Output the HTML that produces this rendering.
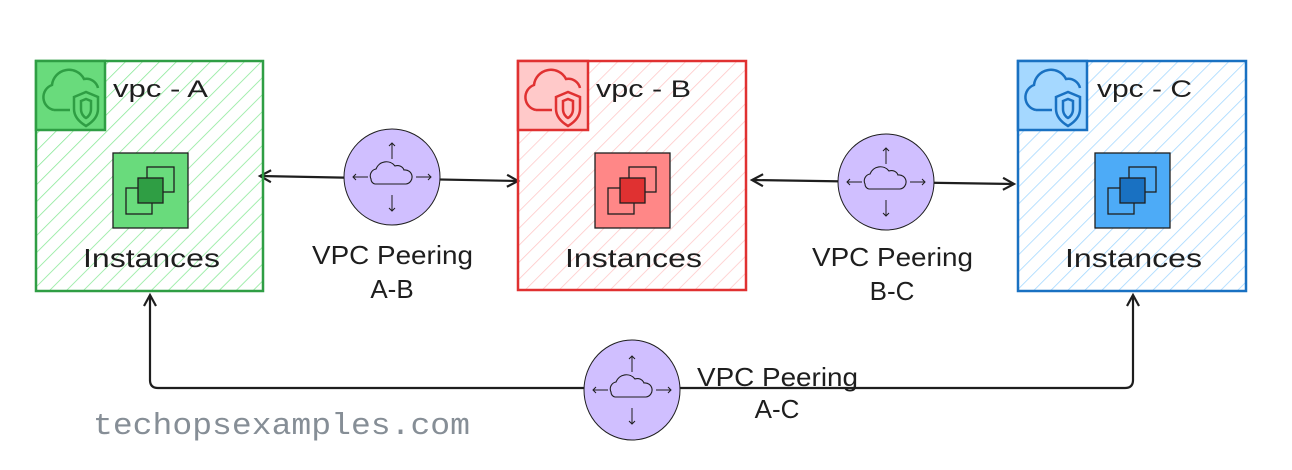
<!DOCTYPE html>
<html><head><meta charset="utf-8"><style>
html,body{margin:0;padding:0;background:#fff;}
svg{display:block}
.h{font-family:"Comic Sans MS","Liberation Sans",sans-serif;fill:#1e1e1e;}
</style></head><body>
<svg width="1292" height="470" viewBox="0 0 1292 470" xmlns="http://www.w3.org/2000/svg">
<defs>
<pattern id="hg" width="12" height="12" patternUnits="userSpaceOnUse" patternTransform="rotate(45)"><line x1="0" y1="0" x2="0" y2="12" stroke="#8ce99a" stroke-width="1.6"/></pattern>
<pattern id="hr" width="12" height="12" patternUnits="userSpaceOnUse" patternTransform="rotate(45)"><line x1="0" y1="0" x2="0" y2="12" stroke="#ffc9c9" stroke-width="1.6"/></pattern>
<pattern id="hb" width="12" height="12" patternUnits="userSpaceOnUse" patternTransform="rotate(45)"><line x1="0" y1="0" x2="0" y2="12" stroke="#a5d8ff" stroke-width="1.6"/></pattern>
<marker id="ar" markerWidth="16" markerHeight="16" refX="13" refY="8" orient="auto-start-reverse" markerUnits="userSpaceOnUse"><path d="M2,2 L13,8 L2,14" fill="none" stroke="#1e1e1e" stroke-width="2.2"/></marker>
<g id="cloudicon" fill="none" stroke-width="2.5">
<path d="M16,46 a13,13 0 0 1 -2,-25 a17,17 0 0 1 32,-6 a12,12 0 0 1 14,9"/>
<path d="M16,46 h16"/>
<path d="M36,33 l12,-5 l12,5 v12 c0,9 -7,14 -12,17 c-5,-3 -12,-8 -12,-17 z"/>
<path d="M43,37 l5,-2 l5,2 v8 c0,5 -3,8 -5,9 c-2,-1 -5,-4 -5,-9 z"/>
</g>
<g id="peer">
<path d="M-21,2 a7,7 0 0 1 5,-10 a11,11 0 0 1 19,-3 a7,7 0 0 1 9,4 a7,7 0 0 1 2,14 h-31 a5,5 0 0 1 -4,-5z" fill="none" stroke="#1e1e1e" stroke-width="1.1"/>
<g stroke="#1e1e1e" stroke-width="1" fill="none">
<path d="M0,-18 v-16 M-3,-31 l3,-3 l3,3"/>
<path d="M0,18 v16 M-3,31 l3,3 l3,-3"/>
<path d="M-24,0 h-15 M-36,-3 l-3,3 l3,3"/>
<path d="M24,0 h15 M36,-3 l3,3 l-3,3"/>
</g>
</g>
</defs>

<!-- connectors -->
<line x1="260" y1="176" x2="518" y2="181" stroke="#1e1e1e" stroke-width="2.2" marker-start="url(#ar)" marker-end="url(#ar)"/>
<line x1="752" y1="180" x2="1014" y2="184" stroke="#1e1e1e" stroke-width="2.2" marker-start="url(#ar)" marker-end="url(#ar)"/>
<path d="M150,295 V380 q0,8 8,8 H1125 q8,0 8,-8 V295" fill="none" stroke="#1e1e1e" stroke-width="2.2" marker-start="url(#ar)" marker-end="url(#ar)"/>

<!-- VPC A -->
<rect x="36" y="61" width="227" height="230" fill="url(#hg)" stroke="#2f9e44" stroke-width="2.5"/>
<rect x="36" y="61" width="69" height="69" fill="#69db7c" stroke="#2f9e44" stroke-width="2.5"/>
<use href="#cloudicon" x="38" y="64" stroke="#2f9e44"/>
<text class="h" x="113" y="97" font-size="24" textLength="95" lengthAdjust="spacingAndGlyphs">vpc - A</text>
<rect x="113" y="153" width="75" height="75" fill="#69db7c" stroke="#1e1e1e" stroke-width="1.3"/>
<rect x="147" y="167" width="27" height="25" fill="none" stroke="#1e1e1e" stroke-width="1.3"/>
<rect x="126" y="188" width="26" height="26" fill="none" stroke="#1e1e1e" stroke-width="1.3"/>
<rect x="138" y="178" width="25" height="25" fill="#2f9e44" stroke="#1e1e1e" stroke-width="1.3"/>
<text class="h" x="83" y="267" font-size="26" textLength="137" lengthAdjust="spacingAndGlyphs">Instances</text>

<!-- VPC B -->
<rect x="518" y="61" width="228" height="229" fill="url(#hr)" stroke="#e03131" stroke-width="2.5"/>
<rect x="518" y="61" width="70" height="69" fill="#ffc9c9" stroke="#e03131" stroke-width="2.5"/>
<use href="#cloudicon" x="520" y="64" stroke="#e03131"/>
<text class="h" x="596" y="97" font-size="24" textLength="95" lengthAdjust="spacingAndGlyphs">vpc - B</text>
<rect x="595" y="153" width="75" height="75" fill="#ff8787" stroke="#1e1e1e" stroke-width="1.3"/>
<rect x="629" y="167" width="27" height="25" fill="none" stroke="#1e1e1e" stroke-width="1.3"/>
<rect x="608" y="188" width="26" height="26" fill="none" stroke="#1e1e1e" stroke-width="1.3"/>
<rect x="620" y="178" width="25" height="25" fill="#e03131" stroke="#1e1e1e" stroke-width="1.3"/>
<text class="h" x="565" y="267" font-size="26" textLength="137" lengthAdjust="spacingAndGlyphs">Instances</text>

<!-- VPC C -->
<rect x="1018" y="61" width="228" height="230" fill="url(#hb)" stroke="#1971c2" stroke-width="2.5"/>
<rect x="1018" y="61" width="69" height="69" fill="#a5d8ff" stroke="#1971c2" stroke-width="2.5"/>
<use href="#cloudicon" x="1020" y="64" stroke="#1971c2"/>
<text class="h" x="1097" y="97" font-size="24" textLength="95" lengthAdjust="spacingAndGlyphs">vpc - C</text>
<rect x="1095" y="153" width="75" height="75" fill="#4dabf7" stroke="#1e1e1e" stroke-width="1.3"/>
<rect x="1129" y="167" width="27" height="25" fill="none" stroke="#1e1e1e" stroke-width="1.3"/>
<rect x="1108" y="188" width="26" height="26" fill="none" stroke="#1e1e1e" stroke-width="1.3"/>
<rect x="1120" y="178" width="25" height="25" fill="#1971c2" stroke="#1e1e1e" stroke-width="1.3"/>
<text class="h" x="1065" y="267" font-size="26" textLength="137" lengthAdjust="spacingAndGlyphs">Instances</text>

<!-- peering nodes -->
<circle cx="392" cy="177" r="48" fill="#d0bfff" stroke="#1e1e1e" stroke-width="1"/>
<use href="#peer" x="392" y="177"/>
<text class="h" x="312" y="264" font-size="26" textLength="161" lengthAdjust="spacingAndGlyphs">VPC Peering</text>
<text class="h" x="392" y="298" font-size="26" text-anchor="middle">A-B</text>

<circle cx="886" cy="182" r="48" fill="#d0bfff" stroke="#1e1e1e" stroke-width="1"/>
<use href="#peer" x="886" y="182"/>
<text class="h" x="812" y="266" font-size="26" textLength="161" lengthAdjust="spacingAndGlyphs">VPC Peering</text>
<text class="h" x="892" y="300" font-size="26" text-anchor="middle">B-C</text>

<ellipse cx="632" cy="390" rx="48" ry="50" fill="#d0bfff" stroke="#1e1e1e" stroke-width="1"/>
<use href="#peer" x="632" y="390"/>
<text class="h" x="697" y="386" font-size="26" textLength="161" lengthAdjust="spacingAndGlyphs">VPC Peering</text>
<text class="h" x="777" y="418" font-size="26" text-anchor="middle">A-C</text>

<text x="93" y="434" font-family="'Liberation Mono',monospace" font-size="31" fill="#868e96" textLength="377" lengthAdjust="spacingAndGlyphs">techopsexamples.com</text>
</svg>
</body></html>
